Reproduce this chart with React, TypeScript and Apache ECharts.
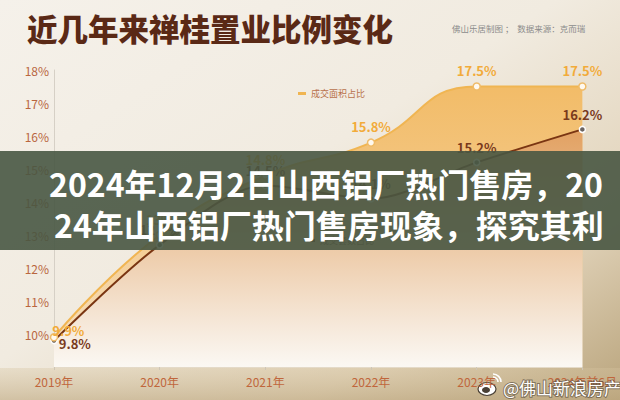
import React, { useEffect, useRef } from "react";
import * as echarts from "echarts";

const years = ["2019年", "2020年", "2021年", "2022年", "2023年", "2024年前6月"];
const areaShare = [9.9, 13.0, 14.8, 15.8, 17.5, 17.5];
const unitShare = [9.8, 12.7, 14.5, 14.1, 15.2, 16.2];
const seriesNames = ["成交面积占比", "成交套数占比"];
const yMin = 9;
const yMax = 18;
const yStep = 1;

const titleText = "近几年来禅桂置业比例变化";
const sourceText = "佛山乐居制图 ；  数据来源：克而瑞";
const bannerLines = ["2024年12月2日山西铝厂热门售房，20", "24年山西铝厂热门售房现象，探究其利"];
const watermark = "@佛山新浪房产";

const FONT = '"Noto Sans CJK SC", "Noto Sans", sans-serif';

export default function App() {
  const ref = useRef<HTMLDivElement>(null);
  useEffect(() => {
    if (!ref.current) return;
    const chart = echarts.init(ref.current, undefined, { renderer: "svg" });

    const areaData = areaShare.map((v, i) =>
      i === 0
        ? { value: v, label: { position: "right", distance: 0, offset: [-6, -7] } }
        : v
    );
    const unitData = unitShare.map((v, i) =>
      i === 0
        ? { value: v, label: { position: "right", distance: 1, offset: [0, 3] } }
        : v
    );

    chart.setOption({
      animation: false,
      textStyle: { fontFamily: FONT },
      grid: { left: 54, right: 31, top: 70, bottom: 33 },
      legend: [
        {
          data: [seriesNames[0]],
          left: 293,
          top: 84,
          icon: "rect",
          itemWidth: 8,
          itemHeight: 3,
          itemGap: 4,
          itemStyle: { color: "#f0b552", borderWidth: 0 },
          textStyle: { fontSize: 9, color: "#b8714b", fontFamily: FONT },
        },
        {
          data: [seriesNames[1]],
          left: 302,
          top: 231,
          icon: "rect",
          itemWidth: 8,
          itemHeight: 3,
          itemStyle: { color: "#7a3512", borderWidth: 0 },
          textStyle: { fontSize: 9, color: "#8a5a40", fontFamily: FONT },
        },
      ],
      xAxis: {
        type: "category",
        data: years,
        boundaryGap: false,
        axisLine: { show: true, lineStyle: { color: "#e4dac8", width: 1 } },
        axisTick: { show: true, length: 3, lineStyle: { color: "#cfc6b6" } },
        axisLabel: { color: "#c0663c", fontSize: 12, margin: 8, fontFamily: FONT },
        splitLine: { show: false },
      },
      yAxis: {
        type: "value",
        min: yMin,
        max: yMax,
        interval: yStep,
        axisLine: { show: true, lineStyle: { color: "#d6d0c6", width: 1 } },
        axisTick: { show: false },
        splitLine: { show: false },
        axisLabel: {
          color: "#b9663f",
          fontSize: 12,
          margin: 5,
          fontFamily: FONT,
          formatter: (v: number) => (v === yMin ? "" : v + "%"),
        },
      },
      series: [
        {
          name: seriesNames[0],
          type: "line",
          smooth: 0.5,
          data: areaShare,
          symbol: "none",
          itemStyle: { color: "#f0b552" },
          lineStyle: { width: 0, color: "rgba(0,0,0,0)" },
          areaStyle: {
            opacity: 1,
            color: new echarts.graphic.LinearGradient(0, 0, 0, 1, [
              { offset: 0, color: "#f2bc68" },
              { offset: 0.5, color: "#f4ca8c" },
              { offset: 1, color: "#f8e4c8" },
            ]),
          },
          silent: true,
          z: 1,
        },
        {
          name: seriesNames[1],
          type: "line",
          smooth: 0.3,
          data: unitData,
          symbol: "circle",
          symbolSize: 6,
          showAllSymbol: true,
          itemStyle: { color: "#6b6461", borderColor: "#ffffff", borderWidth: 1.5 },
          lineStyle: { color: "#7a3512", width: 2 },
          areaStyle: {
            opacity: 1,
            color: new echarts.graphic.LinearGradient(0, 0, 0, 1, [
              { offset: 0, color: "#e2a162" },
              { offset: 0.45, color: "#ecc6a0" },
              { offset: 0.8, color: "#f5e6d6" },
              { offset: 1, color: "#fbf8f3" },
            ]),
          },
          label: {
            show: true,
            position: "top",
            distance: 5,
            formatter: (p: any) => p.value + "%",
            color: "#7a3a1c",
            fontWeight: "bold",
            fontSize: 13,
            fontFamily: FONT,
          },
          z: 2,
        },
        {
          name: seriesNames[0],
          type: "line",
          smooth: 0.5,
          data: areaData,
          symbol: "circle",
          symbolSize: 7,
          showAllSymbol: true,
          itemStyle: { color: "#fff9ef", borderColor: "#efbb68", borderWidth: 1.5 },
          lineStyle: { color: "#f0b552", width: 2 },
          label: {
            show: true,
            position: "top",
            distance: 5,
            formatter: (p: any) => p.value + "%",
            color: "#f2ab3a",
            fontWeight: "bold",
            fontSize: 13,
            fontFamily: FONT,
          },
          z: 3,
        },
      ],
      graphic: [
        {
          type: "rect",
          z: -10,
          silent: true,
          shape: { x: 0, y: 0, width: 620, height: 400 },
          style: {
            fill: new echarts.graphic.LinearGradient(0, 0, 1, 1, [
              { offset: 0, color: "#f5f1ea" },
              { offset: 0.45, color: "#f1ebe0" },
              { offset: 0.75, color: "#e2d4bb" },
              { offset: 1, color: "#b9a47c" },
            ]),
          },
        },
        {
          type: "rect",
          z: -9,
          silent: true,
          shape: { x: 0, y: 368, width: 620, height: 32 },
          style: {
            fill: new echarts.graphic.LinearGradient(0, 0, 0, 1, [
              { offset: 0, color: "rgba(214,196,160,0.35)" },
              { offset: 1, color: "rgba(190,168,128,0.6)" },
            ]),
          },
        },
        {
          type: "text",
          z: 20,
          left: 27,
          top: 13,
          style: {
            text: titleText,
            fill: "#5a2916",
            fontSize: 30.5,
            fontWeight: 900,
            fontFamily: FONT,
          },
        },
        {
          type: "text",
          z: 20,
          left: 452,
          top: 24,
          style: {
            text: sourceText,
            fill: "#8c8c8c",
            fontSize: 8.5,
            fontFamily: FONT,
          },
        },
        {
          type: "rect",
          z: 100,
          silent: true,
          shape: { x: 0, y: 151, width: 620, height: 99 },
          style: { fill: "rgba(72,86,66,0.9)" },
        },
        {
          type: "text",
          z: 101,
          x: 49,
          y: 183,
          style: {
            text: bannerLines[0],
            fill: "#ffffff",
            fontSize: 32,
            fontWeight: "bold",
            fontFamily: FONT,
            verticalAlign: "middle",
            align: "left",
          },
        },
        {
          type: "text",
          z: 101,
          x: 54,
          y: 224,
          style: {
            text: bannerLines[1],
            fill: "#ffffff",
            fontSize: 32,
            fontWeight: "bold",
            fontFamily: FONT,
            verticalAlign: "middle",
            align: "left",
          },
        },
        {
          type: "group",
          z: 102,
          children: [
            {
              type: "ellipse",
              shape: { cx: 487, cy: 389, rx: 9, ry: 6.5 },
              style: { fill: "#ffffff", stroke: "#4a4036", lineWidth: 1.2 },
            },
            {
              type: "ellipse",
              shape: { cx: 486, cy: 390, rx: 4, ry: 3 },
              style: { fill: "#4a4036" },
            },
            {
              type: "arc",
              shape: { cx: 493, cy: 382, r: 5, startAngle: -Math.PI / 2, endAngle: 0 },
              style: { stroke: "#ffffff", lineWidth: 1.6, fill: "none" },
            },
            {
              type: "arc",
              shape: { cx: 493, cy: 382, r: 8, startAngle: -Math.PI / 2, endAngle: 0 },
              style: { stroke: "#ffffff", lineWidth: 1.6, fill: "none" },
            },
          ],
        },
        {
          type: "text",
          z: 102,
          x: 503,
          y: 387,
          style: {
            text: watermark,
            fill: "#ffffff",
            fontSize: 17,
            fontFamily: FONT,
            verticalAlign: "middle",
            stroke: "rgba(70,60,50,0.55)",
            lineWidth: 2,
          },
        },
      ],
    });
    return () => chart.dispose();
  }, []);
  return (
    <div
      ref={ref}
      style={{ position: "absolute", left: 0, top: 0, width: 620, height: 400 }}
    />
  );
}
